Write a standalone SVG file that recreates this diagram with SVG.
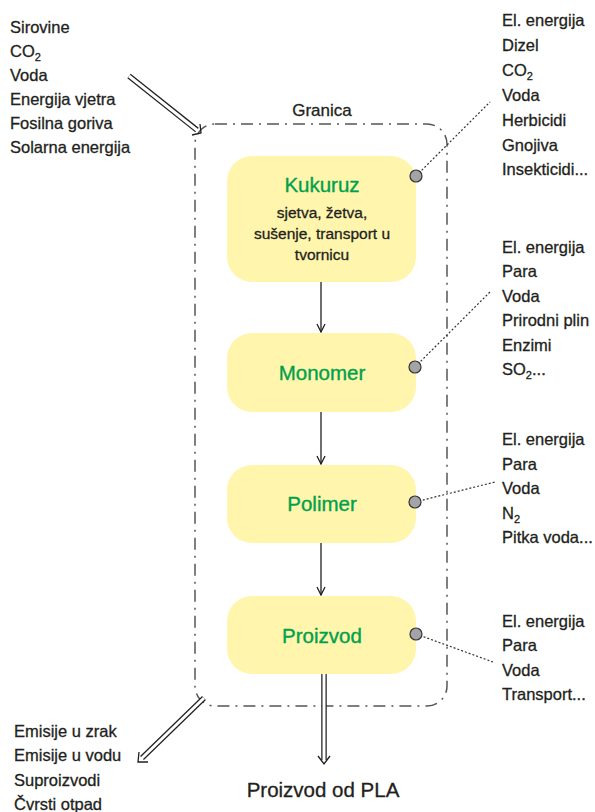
<svg xmlns="http://www.w3.org/2000/svg" width="595" height="812" viewBox="0 0 595 812">
<style>
.t{font-family:"Liberation Sans",Arial,sans-serif;font-size:16.5px;fill:#231f20;stroke:#231f20;stroke-width:0.3}
.h{font-family:"Liberation Sans",Arial,sans-serif;font-size:20.5px;fill:#00a14b;stroke:#00a14b;stroke-width:0.35;text-anchor:middle}
.s{font-family:"Liberation Sans",Arial,sans-serif;font-size:15.5px;fill:#231f20;stroke:#231f20;stroke-width:0.3;text-anchor:middle}
.box{fill:#fff5ad}
.dot{fill:#a3a3a8;stroke:#333;stroke-width:1.2}
.dl{stroke:#333;stroke-width:1.2;stroke-dasharray:2 2;fill:none}
.ar{stroke:#231f20;stroke-width:1.3;fill:none}
.dbo{stroke:#231f20;stroke-width:5.5;fill:none}
.dbi{stroke:#fff;stroke-width:3;fill:none}
</style>
<defs>
<marker id="v" viewBox="0 0 10 10" refX="9" refY="5" markerWidth="10" markerHeight="10" markerUnits="userSpaceOnUse" orient="auto">
<path d="M1,1 L9,5 L1,9" fill="none" stroke="#231f20" stroke-width="1.3"/>
</marker>
</defs>
<rect x="0" y="0" width="595" height="812" fill="#fff"/>

<g id="boundary">
<rect x="195" y="124" width="252" height="582" rx="20" fill="none" stroke="#555" stroke-width="1.5" stroke-dasharray="12 6 2 6"/>
<text x="322" y="116" class="t" style="font-size:17px;text-anchor:middle">Granica</text>
</g>

<g id="connectors">
<line x1="321" y1="282" x2="321" y2="332" class="ar" marker-end="url(#v)"/>
<line x1="321" y1="412" x2="321" y2="464" class="ar" marker-end="url(#v)"/>
<line x1="321" y1="543" x2="321" y2="595" class="ar" marker-end="url(#v)"/>
<line x1="416" y1="176" x2="490" y2="102" class="dl"/>
<line x1="415" y1="367" x2="490" y2="292" class="dl"/>
<line x1="415" y1="502" x2="495" y2="482" class="dl"/>
<line x1="416" y1="634" x2="493" y2="662" class="dl"/>
<line x1="129" y1="76" x2="197" y2="130" class="dbo"/>
<line x1="129" y1="76" x2="198" y2="131" class="dbi"/>
<path d="M192,135 L201,133 L200,124" class="ar"/>
<line x1="204" y1="698" x2="142" y2="758" class="dbo"/>
<line x1="204" y1="698" x2="141" y2="759" class="dbi"/>
<path d="M139,752 L138,762 L148,762" class="ar"/>
<line x1="324" y1="674" x2="324" y2="760" class="dbo"/>
<line x1="324" y1="674" x2="324" y2="761" class="dbi"/>
<path d="M318,756 L324,764 L330,756" class="ar"/>
</g>

<g id="kukuruz">
<rect x="227" y="156" width="189" height="126" rx="25" class="box"/>
<text x="322" y="192" class="h">Kukuruz</text>
<text x="322" y="218" class="s">sjetva, žetva,</text>
<text x="322" y="239" class="s">sušenje, transport u</text>
<text x="322" y="260" class="s">tvornicu</text>
<circle cx="416" cy="176" r="6" class="dot"/>
</g>

<g id="monomer">
<rect x="227" y="333" width="189" height="79" rx="25" class="box"/>
<text x="322" y="380" class="h">Monomer</text>
<circle cx="415" cy="367" r="6" class="dot"/>
</g>

<g id="polimer">
<rect x="227" y="465" width="189" height="78" rx="25" class="box"/>
<text x="322" y="511" class="h">Polimer</text>
<circle cx="415" cy="502" r="6" class="dot"/>
</g>

<g id="proizvod">
<rect x="227" y="596" width="189" height="78" rx="25" class="box"/>
<text x="322" y="643" class="h">Proizvod</text>
<circle cx="416" cy="634" r="6" class="dot"/>
</g>

<g id="inputs">
<text x="10" y="33" class="t">Sirovine</text>
<text x="10" y="57" class="t">CO<tspan style="font-size:11px" dy="4">2</tspan></text>
<text x="10" y="81" class="t">Voda</text>
<text x="10" y="105" class="t">Energija vjetra</text>
<text x="10" y="129" class="t">Fosilna goriva</text>
<text x="10" y="153" class="t">Solarna energija</text>
</g>

<g id="inputs-kukuruz">
<text x="502" y="26" class="t">El. energija</text>
<text x="502" y="51" class="t">Dizel</text>
<text x="502" y="76" class="t">CO<tspan style="font-size:11px" dy="4">2</tspan></text>
<text x="502" y="101" class="t">Voda</text>
<text x="502" y="126" class="t">Herbicidi</text>
<text x="502" y="151" class="t">Gnojiva</text>
<text x="502" y="175" class="t">Insekticidi...</text>
</g>

<g id="inputs-monomer">
<text x="502" y="253" class="t">El. energija</text>
<text x="502" y="277" class="t">Para</text>
<text x="502" y="302" class="t">Voda</text>
<text x="502" y="326" class="t">Prirodni plin</text>
<text x="502" y="351" class="t">Enzimi</text>
<text x="502" y="375" class="t">SO<tspan style="font-size:11px" dy="4">2</tspan><tspan dy="-4">...</tspan></text>
</g>

<g id="inputs-polimer">
<text x="502" y="445" class="t">El. energija</text>
<text x="502" y="470" class="t">Para</text>
<text x="502" y="494" class="t">Voda</text>
<text x="502" y="519" class="t">N<tspan style="font-size:11px" dy="4">2</tspan></text>
<text x="502" y="543" class="t">Pitka voda...</text>
</g>

<g id="inputs-proizvod">
<text x="502" y="627" class="t">El. energija</text>
<text x="502" y="651" class="t">Para</text>
<text x="502" y="676" class="t">Voda</text>
<text x="502" y="700" class="t">Transport...</text>
</g>

<g id="outputs">
<text x="14" y="737" class="t">Emisije u zrak</text>
<text x="14" y="761" class="t">Emisije u vodu</text>
<text x="14" y="786" class="t">Suproizvodi</text>
<text x="14" y="810" class="t">Čvrsti otpad</text>
</g>

<g id="product">
<text x="323" y="797" class="t" style="font-size:20.5px;text-anchor:middle">Proizvod od PLA</text>
</g>
</svg>
